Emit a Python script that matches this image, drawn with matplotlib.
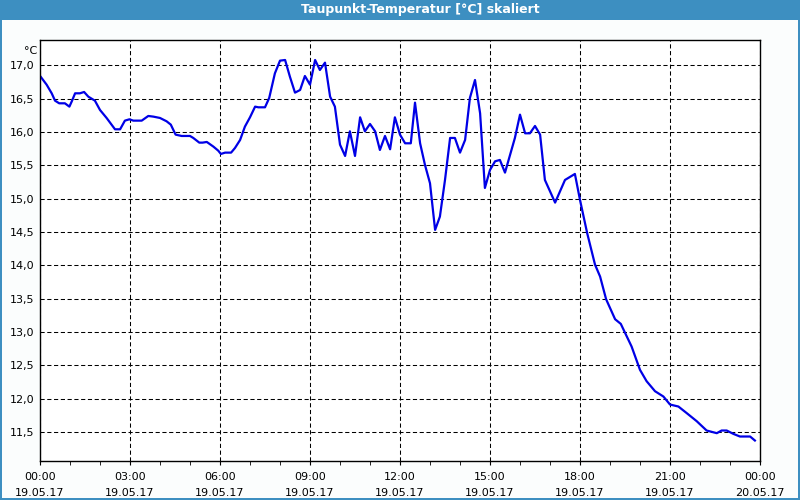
import matplotlib
matplotlib.use("Agg")
import matplotlib.pyplot as plt
from matplotlib.patches import Rectangle
from matplotlib.ticker import FuncFormatter, MultipleLocator

# Stunden seit 19.05.17 00:00 und Taupunkt in °C
stunden = [0.02, 0.22, 0.39, 0.5, 0.64, 0.83, 0.98, 1.06, 1.17, 1.33, 1.47, 1.61, 1.83,
           2.0, 2.22, 2.5, 2.67, 2.83, 2.98, 3.11, 3.39, 3.61, 3.78, 4.0, 4.22, 4.36,
           4.52, 4.72, 5.0, 5.11, 5.31, 5.42, 5.56, 5.78, 5.94, 6.03, 6.17, 6.37, 6.5,
           6.67, 6.83, 7.0, 7.17, 7.28, 7.5, 7.64, 7.83, 8.0, 8.17, 8.33, 8.5, 8.67,
           8.83, 9.0, 9.17, 9.33, 9.5, 9.67, 9.83, 10.0, 10.17, 10.33, 10.5, 10.67,
           10.83, 11.0, 11.17, 11.33, 11.5, 11.67, 11.83, 12.0, 12.17, 12.36, 12.5,
           12.67, 12.83, 13.0, 13.17, 13.33, 13.5, 13.67, 13.83, 14.0, 14.17, 14.33,
           14.5, 14.67, 14.83, 15.0, 15.17, 15.33, 15.5, 15.67, 15.83, 16.0, 16.17,
           16.33, 16.5, 16.67, 16.83, 17.0, 17.17, 17.5, 17.83, 18.0, 18.24, 18.5,
           18.67, 18.87, 19.17, 19.36, 19.72, 20.0, 20.22, 20.5, 20.78, 21.0, 21.28,
           21.56, 21.89, 22.22, 22.56, 22.72, 22.89, 23.11, 23.33, 23.67, 23.83]
taupunkt = [16.83, 16.71, 16.58, 16.47, 16.43, 16.43, 16.38, 16.46, 16.58, 16.58, 16.60,
            16.53, 16.47, 16.33, 16.21, 16.04, 16.04, 16.17, 16.19, 16.17, 16.17, 16.24,
            16.23, 16.21, 16.16, 16.11, 15.96, 15.94, 15.94, 15.91, 15.84, 15.84, 15.85,
            15.78, 15.72, 15.67, 15.69, 15.69, 15.76, 15.88, 16.08, 16.22, 16.38, 16.37,
            16.37, 16.51, 16.88, 17.07, 17.08, 16.83, 16.59, 16.63, 16.84, 16.71, 17.08,
            16.93, 17.04, 16.53, 16.38, 15.81, 15.64, 16.01, 15.64, 16.22, 16.01, 16.12,
            16.01, 15.73, 15.94, 15.74, 16.22, 15.96, 15.83, 15.83, 16.44, 15.83, 15.51,
            15.23, 14.53, 14.73, 15.28, 15.91, 15.91, 15.69, 15.88, 16.51, 16.78, 16.28,
            15.16, 15.43, 15.56, 15.58, 15.39, 15.66, 15.91, 16.26, 15.98, 15.98, 16.09,
            15.96, 15.28, 15.11, 14.94, 15.28, 15.37, 14.98, 14.48, 14.01, 13.83, 13.49,
            13.19, 13.12, 12.78, 12.43, 12.26, 12.11, 12.03, 11.91, 11.88, 11.78, 11.66,
            11.52, 11.48, 11.52, 11.52, 11.47, 11.43, 11.43, 11.37]

x_ticks = [0, 3, 6, 9, 12, 15, 18, 21, 24]
x_labels = ["00:00\n19.05.17", "03:00\n19.05.17", "06:00\n19.05.17", "09:00\n19.05.17",
            "12:00\n19.05.17", "15:00\n19.05.17", "18:00\n19.05.17", "21:00\n19.05.17",
            "00:00\n20.05.17"]

blau_rahmen = "#3d8fc1"

fig = plt.figure(figsize=(8, 5), dpi=100, facecolor="#fbfdfd")
# Titelleiste und Rahmen
fig.patches.append(Rectangle((0, 1 - 20 / 500), 1, 20 / 500, transform=fig.transFigure,
                             facecolor=blau_rahmen, edgecolor="none"))
fig.patches.append(Rectangle((0, 0), 2 / 800, 1, transform=fig.transFigure,
                             facecolor=blau_rahmen, edgecolor="none"))
fig.patches.append(Rectangle((1 - 2 / 800, 0), 2 / 800, 1, transform=fig.transFigure,
                             facecolor=blau_rahmen, edgecolor="none"))
fig.patches.append(Rectangle((0, 0), 1, 2 / 500, transform=fig.transFigure,
                             facecolor=blau_rahmen, edgecolor="none"))
fig.text(0.525, 1 - 10 / 500, "Taupunkt-Temperatur [°C] skaliert", color="white",
         fontsize=9, fontweight="bold", ha="center", va="center")

ax = fig.add_axes([40 / 800, 1 - 460.5 / 500, 720 / 800, 420.5 / 500])
ax.set_facecolor("white")
ax.plot(stunden, taupunkt, color="#0000e6", linewidth=1.6)

ax.set_xlim(0, 24)
ax.set_ylim(11.07, 17.38)
ax.set_xticks(x_ticks)
ax.set_xticklabels(x_labels, fontsize=8, linespacing=1.75)
ax.xaxis.set_minor_locator(MultipleLocator(1))
ax.yaxis.set_major_locator(MultipleLocator(0.5))
ax.yaxis.set_major_formatter(FuncFormatter(lambda v, p: f"{v:.1f}".replace(".", ",")))
ax.tick_params(axis="y", length=0, labelsize=8, pad=4)
ax.tick_params(axis="x", which="both", length=3, direction="out", pad=5)

ax.grid(True, color="black", linestyle=(0, (4, 2.5)), linewidth=0.75)
for s in ax.spines.values():
    s.set_color("black")
    s.set_linewidth(1)

ax.text(-0.004, 0.985, "°C", transform=ax.transAxes, fontsize=8, ha="right", va="top")

fig.savefig("out.png", dpi=100, facecolor=fig.get_facecolor())
